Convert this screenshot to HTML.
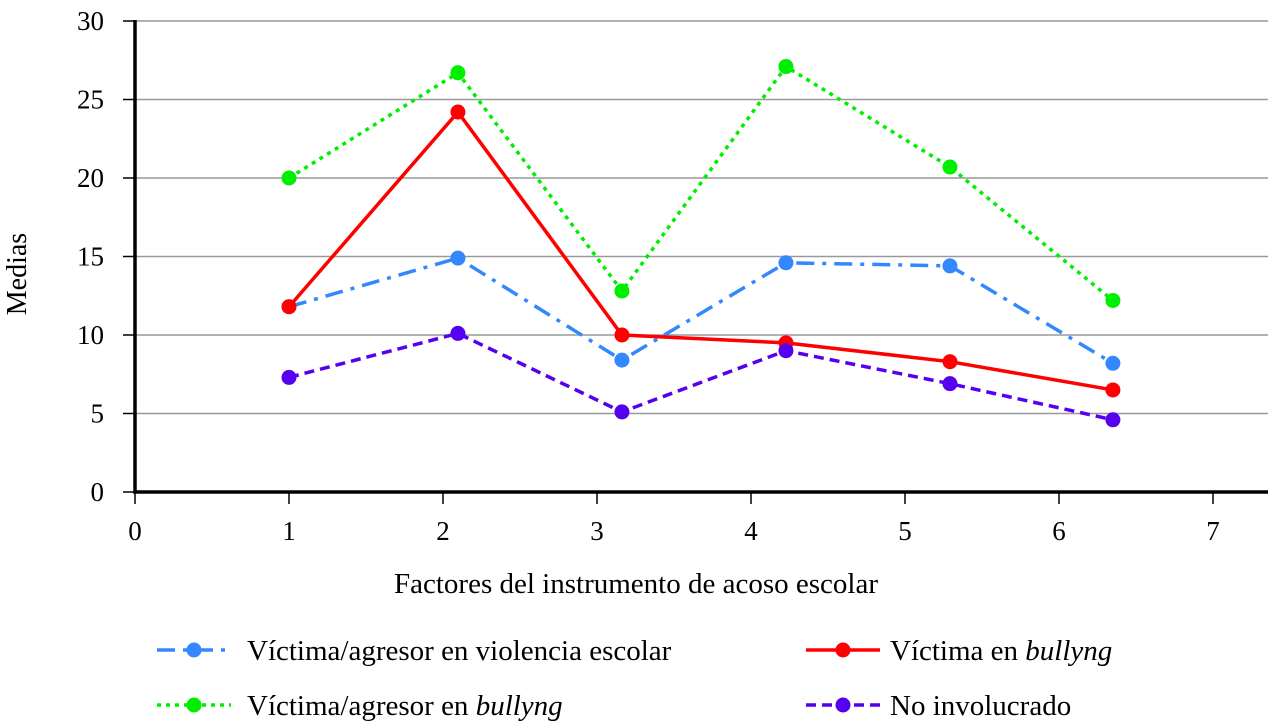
<!DOCTYPE html>
<html><head><meta charset="utf-8"><style>
body{margin:0;background:#fff}
svg{display:block;font-family:"Liberation Serif",serif}
</style></head><body>
<svg id="c" width="1268" height="724"></svg>
<script>
const xValues=[1,2.097,3.162,4.227,5.292,6.35];
const blueSeries=[11.8,14.9,8.4,14.6,14.4,8.2];
const redSeries=[11.8,24.2,10.0,9.5,8.3,6.5];
const greenSeries=[20.0,26.7,12.8,27.1,20.7,12.2];
const purpleSeries=[7.3,10.1,5.1,9.0,6.9,4.6];
const yTicks=[0,5,10,15,20,25,30];
const xTicks=[0,1,2,3,4,5,6,7];
const NS="http://www.w3.org/2000/svg";
const svg=document.getElementById('c');
const X=v=>135+v*154;
const Y=v=>492-v*15.7;
function el(t,a,p){const e=document.createElementNS(NS,t);for(const k in a)e.setAttribute(k,a[k]);(p||svg).appendChild(e);return e;}
yTicks.forEach(t=>{
  if(t>0){const g=el('line',{x1:135,x2:1268,y1:Y(t),y2:Y(t),stroke:'#999','stroke-width':1.5});
  
  }
  const tk=el('line',{x1:123,x2:135,y1:Y(t),y2:Y(t),stroke:'#000','stroke-width':1.5});
  
  
  const tx=el('text',{x:104,y:Y(t)+9,'text-anchor':'end','font-size':27});
  tx.textContent=t;
  
  
});
xTicks.forEach(t=>{
  const tk=el('line',{x1:X(t),x2:X(t),y1:492,y2:504,stroke:'#000','stroke-width':1.5});
  
  
  const tx=el('text',{x:X(t),y:540,'text-anchor':'middle','font-size':27});
  tx.textContent=t;
  
  
});
const ax=el('path',{d:'M135 20 V492 H1268',fill:'none',stroke:'#000','stroke-width':3.5});


const series=[
 {d:blueSeries,c:'#3388ff',dash:'18 8 4 8',n:'victima-agresor-violencia'},
 {d:greenSeries,c:'#00ee00',dash:'4 5',n:'victima-agresor-bullyng'},
 {d:redSeries,c:'#ff0000',dash:'',n:'victima-bullyng'},
 {d:purpleSeries,c:'#5500ee',dash:'10 6',n:'no-involucrado'}];
series.forEach(s=>{
  const p=el('polyline',{points:s.d.map((v,i)=>X(xValues[i])+','+Y(v)).join(' '),fill:'none',stroke:s.c,'stroke-width':3.5,'stroke-dasharray':s.dash});
  
  
  s.d.forEach((v,i)=>{
    const c=el('circle',{cx:X(xValues[i]),cy:Y(v),r:7.5,fill:s.c});
    
    
  });
});
const yt=el('text',{x:0,y:0,'font-size':28,'text-anchor':'middle',transform:'translate(26,274) rotate(-90)'});
yt.textContent='Medias';


const xt=el('text',{x:636,y:593,'font-size':29,'text-anchor':'middle'});
xt.textContent='Factores del instrumento de acoso escolar';


const leg=[
 {x:157,y:650,tx:247,s:series[0],t:'Víctima/agresor en violencia escolar',it:''},
 {x:806,y:650,tx:890,s:series[2],t:'Víctima en ',it:'bullyng'},
 {x:157,y:705,tx:247,s:series[1],t:'Víctima/agresor en ',it:'bullyng'},
 {x:806,y:705,tx:890,s:series[3],t:'No involucrado',it:''}];
leg.forEach(l=>{
  const g=el('g',{});
  
  
  el('line',{x1:l.x,x2:l.x+74,y1:l.y,y2:l.y,stroke:l.s.c,'stroke-width':3.5,'stroke-dasharray':l.s.dash},g);
  el('circle',{cx:l.x+37,cy:l.y,r:7.5,fill:l.s.c},g);
  const t=el('text',{x:l.tx,y:l.y+10,'font-size':29},g);
  t.textContent=l.t;
  if(l.it){const ts=el('tspan',{'font-style':'italic'},t);ts.textContent=l.it;}
});
</script>
</body></html>
